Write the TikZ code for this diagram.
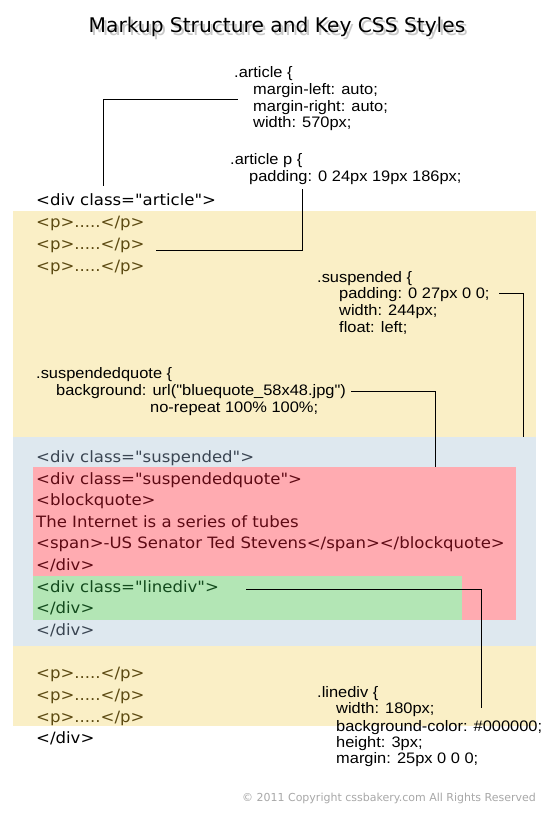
\documentclass[tikz,border=0pt]{standalone}
\usepackage{fontspec}
\setmainfont{DejaVu Sans}
\newfontfamily\cssfont[FakeStretch=1.08]{Liberation Sans}
\newfontfamily\codefont[FakeStretch=1.06]{DejaVu Sans}
\definecolor{bandyellow}{HTML}{FAEFC6}
\definecolor{bandblue}{HTML}{DEE8EF}
\definecolor{boxred}{HTML}{FFABB1}
\definecolor{boxgreen}{HTML}{B3E6B5}
\definecolor{ptext}{HTML}{5C4A12}
\definecolor{stext}{HTML}{3A4552}
\definecolor{rtext}{HTML}{5E0A14}
\definecolor{gtext}{HTML}{124A1C}
\definecolor{copygray}{HTML}{A8A8A8}
\definecolor{shadowgray}{HTML}{C8C8C8}
\tikzset{
  code/.style={anchor=base west, inner sep=0pt, font=\codefont\fontsize{15.6}{18}\selectfont},
  css/.style={anchor=base west, inner sep=0pt, font=\cssfont\fontsize{15.2}{18}\selectfont},
  conn/.style={draw=black, line width=1pt},
  titlefont/.style={inner sep=0pt, font=\fontsize{20.2}{24}\selectfont},
}
\begin{document}
\begin{tikzpicture}[x=1pt,y=-1pt]
\useasboundingbox (0,0) rectangle (550,820);
\fill[white] (0,0) rectangle (550,820);
% bands
\fill[bandyellow] (13,211) rectangle (536,437);
\fill[bandblue] (13,437) rectangle (536,646);
\fill[bandyellow] (13,646) rectangle (536,726);
\fill[boxred] (33,467) rectangle (516,620);
\fill[boxgreen] (33,576) rectangle (462,620);
% title with soft shadow
\node[titlefont, text=shadowgray] (titleshadow) at (279.5,29.5) {Markup Structure and Key CSS Styles};
\node[titlefont] (title) at (277,27) {Markup Structure and Key CSS Styles};
% CSS blocks
\node[css] (art) at (234,77) {.article \{};
\node[css] (art1) at (253,94) {margin-left: auto;};
\node[css] (art2) at (253,111) {margin-right: auto;};
\node[css] (art3) at (253,127) {width: 570px;};
\node[css] (artp) at (230,164) {.article p \{};
\node[css] (artp1) at (249,181) {padding: 0 24px 19px 186px;};
\node[css] (sus) at (317,282) {.suspended \{};
\node[css] (sus1) at (339,298) {padding: 0 27px 0 0;};
\node[css] (sus2) at (339,315) {width: 244px;};
\node[css] (sus3) at (339,332) {float: left;};
\node[css] (sq) at (36,378) {.suspendedquote \{};
\node[css] (sq1) at (56,395) {background: url("bluequote\_58x48.jpg")};
\node[css] (sq2) at (150,412) {no-repeat 100\% 100\%;};
\node[css] (ld) at (317,697) {.linediv \{};
\node[css] (ld1) at (336,713) {width: 180px;};
\node[css] (ld2) at (336,731) {background-color: \#000000;};
\node[css] (ld3) at (336,747) {height: 3px;};
\node[css] (ld4) at (336,763) {margin: 25px 0 0 0;};
% code lines
\node[code] (c0) at (36,205.5) {<div class="article">};
\node[code, text=ptext] (p1) at (36,227.5) {<p>.....</p>};
\node[code, text=ptext] (p2) at (36,249.5) {<p>.....</p>};
\node[code, text=ptext] (p3) at (36,271.5) {<p>.....</p>};
\node[code, text=stext] (s0) at (36,462) {<div class="suspended">};
\node[code, text=rtext] (r1) at (36,484) {<div class="suspendedquote">};
\node[code, text=rtext] (r2) at (36,505.5) {<blockquote>};
\node[code, text=rtext] (r3) at (36,527) {The Internet is a series of tubes};
\node[code, text=rtext] (r4) at (36,548.5) {<span>-US Senator Ted Stevens</span></blockquote>};
\node[code, text=rtext] (r5) at (36,570) {</div>};
\node[code, text=gtext] (g1) at (36,592) {<div class="linediv">};
\node[code, text=gtext] (g2) at (36,613) {</div>};
\node[code, text=stext] (s1) at (36,635) {</div>};
\node[code, text=ptext] (q1) at (36,678) {<p>.....</p>};
\node[code, text=ptext] (q2) at (36,700) {<p>.....</p>};
\node[code, text=ptext] (q3) at (36,722) {<p>.....</p>};
\node[code] (c1) at (36,743) {</div>};
% copyright
\node[anchor=base east, inner sep=0pt, text=copygray, font=\fontsize{11}{13}\selectfont] (copy) at (536,801) {\textcopyright{} 2011 Copyright cssbakery.com All Rights Reserved};
% connector end points
\coordinate (a1) at (237.5,99);
\coordinate (a2) at (103.5,186);
\coordinate (b1) at (156,250);
\coordinate (b2) at (302,189);
\coordinate (d1) at (499,293);
\coordinate (d2) at (523,437);
\coordinate (e1) at (351,391);
\coordinate (e2) at (435,467);
\coordinate (f1) at (246,589);
\coordinate (f2) at (481,708);
\draw[conn] (a1) -| (a2);
\draw[conn] (b1) -| (b2);
\draw[conn] (d1) -| (d2);
\draw[conn] (e1) -| (e2);
\draw[conn] (f1) -| (f2);
\end{tikzpicture}
\end{document}
